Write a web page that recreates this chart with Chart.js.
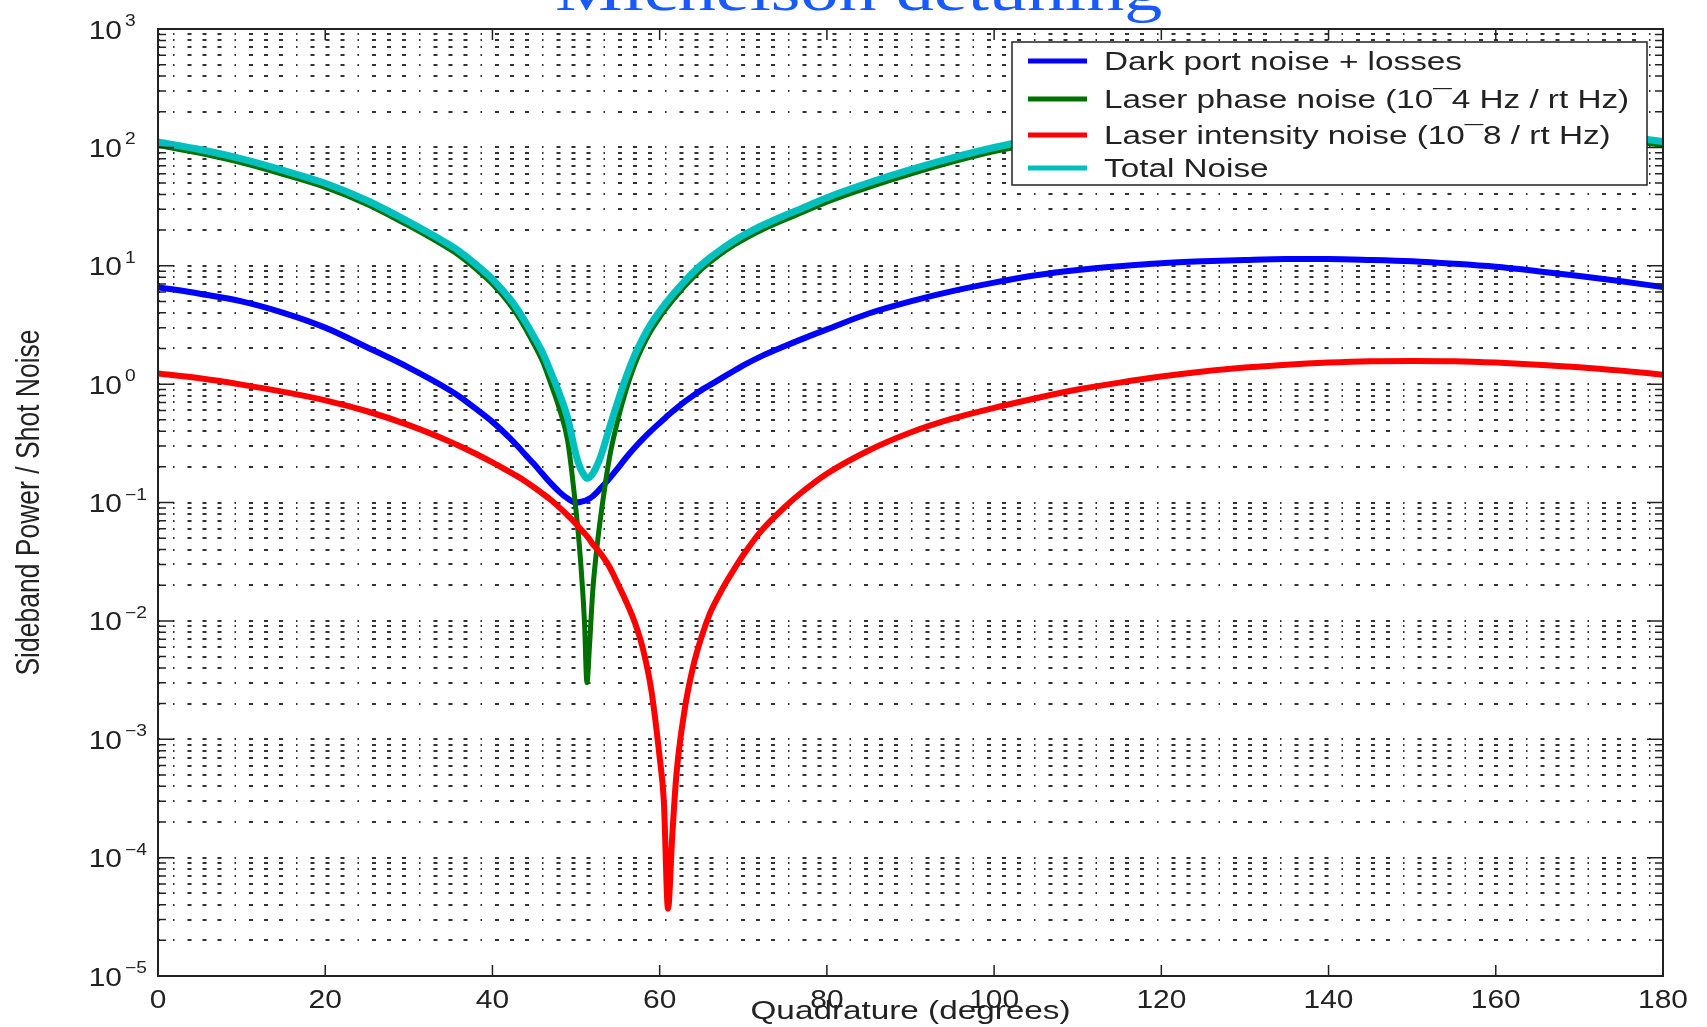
<!DOCTYPE html>
<html>
<head>
<meta charset="utf-8">
<script src="https://cdn.jsdelivr.net/npm/chart.js@4.4.1/dist/chart.umd.min.js"></script>
<style>
  html, body { margin: 0; padding: 0; background: #fff; }
  #wrap { width: 1707px; height: 1027px; }
</style>
</head>
<body>
<div id="wrap"><canvas id="noiseChart" width="1707" height="1027"></canvas></div>
<script>
// Data (quadrature angle in degrees)
const angles = [
  0, 5, 10, 15, 20, 25, 30, 35, 36, 38, 40,
  42, 43, 44, 45, 46, 47, 48, 49, 50,
  50.5, 51, 51.3, 51.6, 52, 52.5, 53,
  54, 55, 56, 57, 58, 59, 60,
  60.5, 61, 61.5, 62, 63, 64, 65, 66,
  67, 68, 69, 70, 72, 75, 77, 80,
  85, 90, 95, 100, 105, 110, 115, 120,
  125, 130, 135, 140, 145, 150, 155, 160,
  165, 170, 175, 180
];
const darkPort = [
  6.6, 5.8, 5.0, 4.0, 3.0, 2.05, 1.38, 0.88, 0.79, 0.62, 0.48,
  0.355, 0.3, 0.25, 0.21, 0.174, 0.145, 0.123, 0.108, 0.1,
  0.101, 0.103, 0.105, 0.108, 0.113, 0.122, 0.133,
  0.16, 0.195, 0.24, 0.29, 0.345, 0.405, 0.47,
  0.505, 0.545, 0.585, 0.625, 0.71, 0.8, 0.89, 0.98,
  1.08, 1.19, 1.31, 1.44, 1.7, 2.1, 2.4, 2.9,
  3.95, 5.0, 6.1, 7.2, 8.3, 9.2, 9.9, 10.5,
  10.9, 11.2, 11.4, 11.4, 11.2, 10.9, 10.4, 9.8,
  9.0, 8.2, 7.4, 6.6
];
const phaseNoise = [
  104, 89, 74, 59, 46, 33, 21.7, 13.6, 12.2, 9.4, 7.0,
  4.8, 3.8, 2.9, 2.15, 1.55, 1.0, 0.62, 0.33, 0.085,
  0.035, 0.01, 0.003, 0.006, 0.018, 0.042, 0.081,
  0.24, 0.5, 0.9, 1.45, 2.1, 2.85, 3.65,
  4.1, 4.55, 5.05, 5.55, 6.7, 7.95, 9.3, 10.7,
  12.1, 13.6, 15.1, 16.6, 19.7, 24.5, 28.0, 34.5,
  46, 59.5, 75, 92, 108, 122, 134, 145,
  154, 160, 164, 166, 165, 162, 156, 149,
  139, 128, 116, 104
];
const intensityNoise = [
  1.23, 1.12, 0.99, 0.86, 0.73, 0.59, 0.45, 0.325, 0.302, 0.258, 0.218,
  0.182, 0.166, 0.15, 0.134, 0.119, 0.105, 0.091, 0.078, 0.066,
  0.06, 0.055, 0.052, 0.049, 0.0445, 0.0405, 0.0365,
  0.0285, 0.0205, 0.0145, 0.0098, 0.0058, 0.0026, 0.0007,
  0.0003, 0.000037, 0.00015, 0.0005, 0.0018, 0.0041, 0.0073, 0.0115,
  0.016, 0.0215, 0.028, 0.036, 0.056, 0.092, 0.122, 0.175,
  0.275, 0.39, 0.51, 0.63, 0.76, 0.9, 1.03, 1.16,
  1.28, 1.38, 1.46, 1.52, 1.56, 1.57, 1.56, 1.52,
  1.46, 1.39, 1.3, 1.2
];
const totalNoise = [
  111, 95.9, 80, 63.9, 49.7, 35.6, 23.5, 14.8, 13.3, 10.3, 7.7,
  5.34, 4.27, 3.3, 2.49, 1.84, 1.25, 0.834, 0.516, 0.251,
  0.196, 0.168, 0.16, 0.163, 0.1755, 0.2045, 0.2505,
  0.4285, 0.7155, 1.1545, 1.75, 2.45, 3.26, 4.12,
  4.61, 5.1, 5.64, 6.18, 7.41, 8.75, 10.2, 11.69,
  13.2, 14.81, 16.44, 18.08, 21.46, 26.7, 30.5, 37.6,
  50.2, 64.9, 81.6, 99.8, 117.1, 132.1, 144.9, 156.7,
  166.2, 172.6, 176.9, 178.9, 177.8, 174.5, 168, 160.3,
  149.5, 137.6, 124.7, 111.8
];

const seriesLabels = [
  'Dark port noise + losses',
  'Laser phase noise (10\u00AF4 Hz / rt Hz)',
  'Laser intensity noise (10\u00AF8 / rt Hz)',
  'Total Noise'
];
const titleText = 'Michelson detuning';
const xTitle = 'Quadrature (degrees)';
const yTitle = 'Sideband Power / Shot Noise';

// Tick labels
const xTicks = [0, 20, 40, 60, 80, 100, 120, 140, 160, 180];
const yExponents = [-5, -4, -3, -2, -1, 0, 1, 2, 3];
const yMantissas = [1, 2, 3, 4, 5, 6, 7, 8, 9];

const yTickValues = [];
yExponents.forEach(e => {
  yMantissas.forEach(m => {
    if (e === 3 && m > 1) return;
    yTickValues.push({ value: m * Math.pow(10, e), major: m === 1 });
  });
});

const toPoints = vals => angles.map((a, i) => ({ x: a, y: vals[i] }));

const SANS = '"Liberation Sans", Arial, Helvetica, sans-serif';
const SERIF = '"Liberation Serif", "Times New Roman", serif';
const INK = '#222';

function drawText(ctx, text, x, y, size, sx, align, family) {
  ctx.save();
  ctx.font = size + 'px ' + (family || SANS);
  ctx.textAlign = align || 'left';
  ctx.textBaseline = 'alphabetic';
  ctx.translate(x, y);
  ctx.scale(sx, 1);
  ctx.fillText(text, 0, 0);
  ctx.restore();
}

// axes frame, inward ticks, labels, legend and title (matlab look)
const matlabFrame = {
  id: 'matlabFrame',
  afterDraw(chart) {
    const { ctx, chartArea: a } = chart;
    const xs = chart.scales.x, ys = chart.scales.y;
    ctx.save();

    ctx.strokeStyle = INK;
    ctx.lineWidth = 2;
    ctx.strokeRect(a.left, a.top, a.right - a.left, a.bottom - a.top);

    ctx.lineWidth = 1.5;
    ctx.beginPath();
    yTickValues.forEach(t => {
      const py = ys.getPixelForValue(t.value);
      const len = t.major ? 16 : 8;
      ctx.moveTo(a.left, py); ctx.lineTo(a.left + len, py);
      ctx.moveTo(a.right, py); ctx.lineTo(a.right - len, py);
    });
    xTicks.forEach(v => {
      const px = xs.getPixelForValue(v);
      ctx.moveTo(px, a.bottom); ctx.lineTo(px, a.bottom - 11);
      ctx.moveTo(px, a.top); ctx.lineTo(px, a.top + 11);
    });
    ctx.stroke();

    ctx.fillStyle = INK;
    yExponents.forEach(e => {
      const py = ys.getPixelForValue(Math.pow(10, e));
      drawText(ctx, '10', a.left - 36, py + 9.5, 26, 1.15, 'right');
      const ex = e < 0 ? '\u2212' + (-e) : String(e);
      drawText(ctx, ex, a.left - 33, py - 3, 16, 1.2, 'left');
    });
    xTicks.forEach(v => {
      drawText(ctx, String(v), xs.getPixelForValue(v), a.bottom + 32, 26, 1.15, 'center');
    });
    drawText(ctx, xTitle, (a.left + a.right) / 2, 1019, 26, 1.28, 'center');

    ctx.save();
    ctx.translate(39, (a.top + a.bottom) / 2);
    ctx.rotate(-Math.PI / 2);
    ctx.scale(1, 1.25);
    ctx.font = '26.5px ' + SANS;
    ctx.textAlign = 'center';
    ctx.textBaseline = 'alphabetic';
    ctx.fillText(yTitle, 0, 0);
    ctx.restore();

    // legend box
    const lx = 1012, ly = 42, lw = 635, lh = 143;
    ctx.fillStyle = '#fff';
    ctx.fillRect(lx, ly, lw, lh);
    ctx.strokeStyle = INK;
    ctx.lineWidth = 1.5;
    ctx.strokeRect(lx, ly, lw, lh);
    const rows = [70, 108, 144, 177];
    chart.data.datasets.forEach((ds, i) => {
      const by = rows[i];
      ctx.strokeStyle = ds.borderColor;
      ctx.lineWidth = 5;
      ctx.beginPath();
      ctx.moveTo(lx + 16, by - 9);
      ctx.lineTo(lx + 75, by - 9);
      ctx.stroke();
      ctx.fillStyle = INK;
      drawText(ctx, ds.label, lx + 92, by, 26, 1.28, 'left');
    });

    // title, mostly cut off by the top edge
    ctx.fillStyle = 'rgb(25, 90, 255)';
    drawText(ctx, titleText, 555, 10, 60, 1.27, 'left', SERIF);

    ctx.restore();
  }
};

const ctx = document.getElementById('noiseChart').getContext('2d');
new Chart(ctx, {
  type: 'line',
  data: {
    datasets: [
      { label: seriesLabels[0], data: toPoints(darkPort), borderColor: '#0000ff', borderWidth: 6, order: 4 },
      { label: seriesLabels[1], data: toPoints(phaseNoise), borderColor: '#007000', borderWidth: 5, order: 3 },
      { label: seriesLabels[2], data: toPoints(intensityNoise), borderColor: '#ff0000', borderWidth: 6, order: 2 },
      { label: seriesLabels[3], data: toPoints(totalNoise), borderColor: '#00bfbf', borderWidth: 7, order: 1 }
    ]
  },
  options: {
    responsive: false,
    devicePixelRatio: 1,
    animation: false,
    events: [],
    elements: {
      line: { cubicInterpolationMode: 'monotone', fill: false, borderJoinStyle: 'round', borderCapStyle: 'butt' },
      point: { radius: 0 }
    },
    layout: { padding: { left: 158, top: 29, right: 44, bottom: 51 } },
    plugins: {
      legend: { display: false },
      tooltip: { enabled: false }
    },
    scales: {
      x: {
        type: 'linear',
        min: 0,
        max: 180,
        display: false
      },
      y: {
        type: 'logarithmic',
        min: 1e-5,
        max: 1e3,
        afterBuildTicks: scale => {
          scale.ticks = yTickValues.map(t => ({ value: t.value, major: t.major }));
        },
        ticks: { display: false },
        grid: { drawTicks: false, color: '#333', lineWidth: 2 },
        border: { display: false, dash: [1.5, 13, 4, 11, 4, 11, 4, 13], dashOffset: 46.5 }
      }
    }
  },
  plugins: [matlabFrame]
});
</script>
</body>
</html>
